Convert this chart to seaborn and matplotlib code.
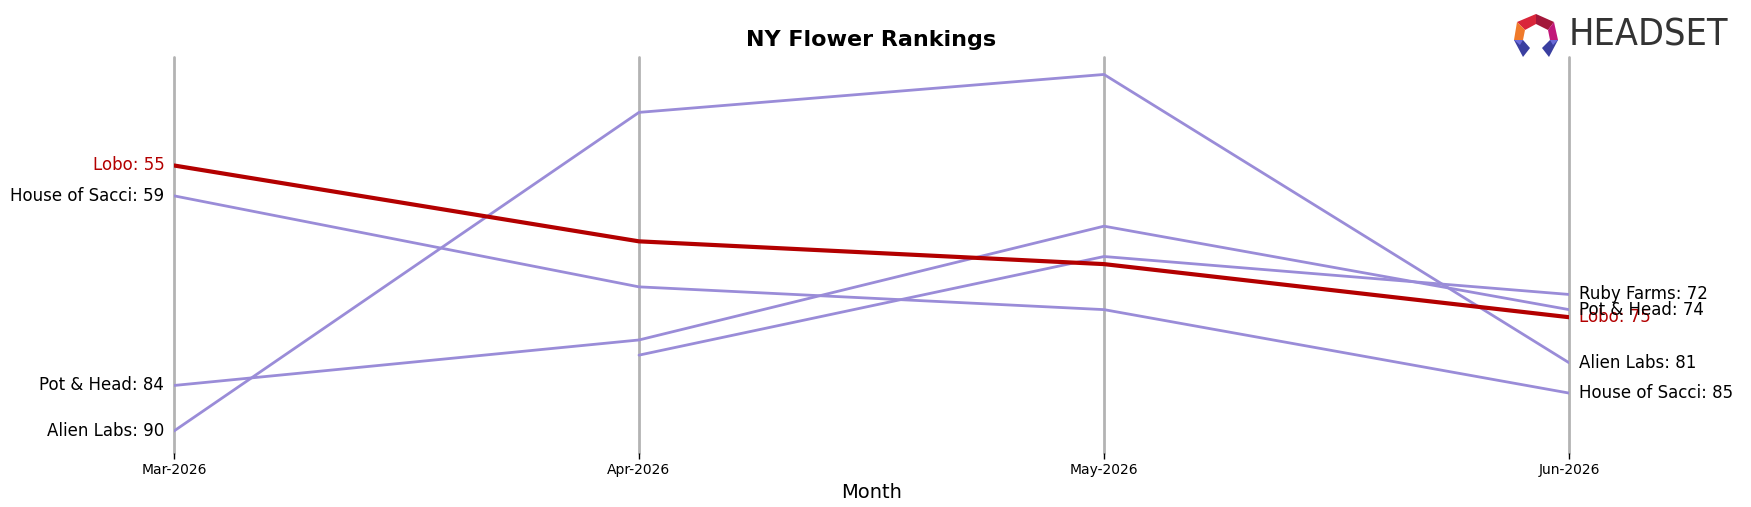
import numpy as np
import pandas as pd
import matplotlib
matplotlib.use("Agg")
import matplotlib.pyplot as plt
from matplotlib.patches import Polygon
import seaborn as sns

months = ["Mar-2026", "Apr-2026", "May-2026", "Jun-2026"]
brands = ["Lobo", "House of Sacci", "Pot & Head", "Alien Labs", "Ruby Farms"]
lobo = [55, 65, 68, 75]
house_of_sacci = [59, 71, 74, 85]
pot_and_head = [84, 78, 63, 74]
alien_labs = [90, 48, 43, 81]
ruby_farms = [np.nan, 80, 67, 72]
ranks = [lobo, house_of_sacci, pot_and_head, alien_labs, ruby_farms]
highlight = "Lobo"

rows = []
for b, vals in zip(brands, ranks):
    for i, (m, v) in enumerate(zip(months, vals)):
        rows.append({"brand": b, "month": m, "x": i, "rank": v})
df = pd.DataFrame(rows)

sns.set_style("white")
plt.rcParams.update({"text.color": "black", "axes.labelcolor": "black",
                     "xtick.color": "black", "axes.titlecolor": "black"})
fig = plt.figure(figsize=(17.51, 5.07), dpi=100)
ax = fig.add_axes([174 / 1751, 1 - 453 / 507, (1569 - 174) / 1751, (453 - 57) / 507])

for i in range(len(months)):
    ax.axvline(i, color="#b3b3b3", lw=2, zorder=0, clip_on=False)

red = "#b30000"
purple = "#9a8cd8"
for b in brands:
    sub = df[df["brand"] == b].dropna()
    is_h = b == highlight
    sns.lineplot(data=sub, x="x", y="rank", ax=ax, color=red if is_h else purple,
                 lw=3 if is_h else 2, zorder=3 if is_h else 2, legend=False)
    col = red if is_h else "black"
    first = sub.iloc[0]
    if first["x"] == 0:
        ax.annotate(f"{b}: {int(first['rank'])}", (0, first["rank"]), xytext=(-7, 0),
                    textcoords="offset points", ha="right", va="center", fontsize=12, color=col)
    last = sub.iloc[-1]
    ax.annotate(f"{b}: {int(last['rank'])}", (last["x"], last["rank"]), xytext=(7, 0),
                textcoords="offset points", ha="left", va="center", fontsize=12, color=col)

ax.set_xlim(0, 3)
ax.set_ylim(92.9, 40.7)
ax.set_xticks(range(len(months)))
ax.set_xticklabels(months, fontsize=10)
ax.tick_params(axis="x", length=4, width=1, bottom=True, color="black")
ax.set_yticks([])
ax.set_ylabel("")
ax.set_xlabel("Month", fontsize=14)
for s in ax.spines.values():
    s.set_visible(False)
ax.set_title("NY Flower Rankings", fontsize=16, fontweight="bold", pad=8)

# logo
def P(pts, c):
    p = Polygon([(x / 1751, 1 - y / 507) for x, y in pts], closed=True, color=c,
                transform=fig.transFigure, lw=0)
    fig.patches.append(p)

P([(1517, 22), (1536, 14), (1536, 24), (1525, 30)], "#d9263a")
P([(1536, 14), (1554, 22), (1548, 30), (1536, 24)], "#a3173a")
P([(1517, 22), (1525, 30), (1523, 40), (1514, 40)], "#f07a2a")
P([(1554, 22), (1558, 40), (1550, 40), (1548, 30)], "#c2187a")
P([(1514, 40), (1523, 40), (1530, 48), (1523, 57)], "#3a3fa0")
P([(1550, 40), (1558, 40), (1549, 57), (1542, 48)], "#3a3fa0")
P([(1514, 40), (1523, 40), (1520, 45)], "#6a6ad8")
P([(1550, 40), (1558, 40), (1553, 45)], "#6a6ad8")
fig.text(1569 / 1751, 1 - 36 / 507, "HEADSET", fontsize=27, color="#333333",
         ha="left", va="center", fontstretch="condensed", fontweight="medium")

fig.savefig("out.png", dpi=100)
